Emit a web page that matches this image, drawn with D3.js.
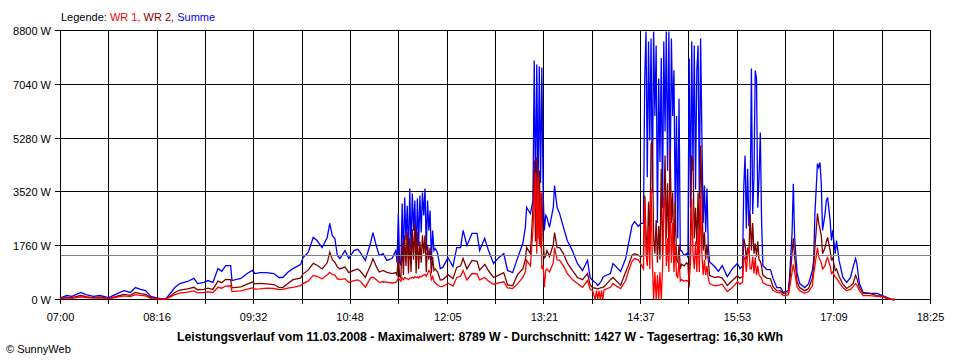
<!DOCTYPE html>
<html><head><meta charset="utf-8">
<script src="https://cdn.jsdelivr.net/npm/d3@7"></script>
<style>
body{margin:0;background:#fff}
svg{display:block}
text{font-family:"Liberation Sans",Arial,sans-serif;font-size:11px;fill:#000}
</style>
</head><body>
<svg id="c" width="960" height="360"></svg>
<script>
const xLabels = ["07:00","08:16","09:32","10:48","12:05","13:21","14:37","15:53","17:09","18:25"];
const yTicks = [0,1760,3520,5280,7040,8800];
const average = 1427;
const seriesNames = ["WR 1","WR 2","Summe"];
const seriesColors = ["#ff0000","#800000","#0000ff"];
const titleText = "Leistungsverlauf vom 11.03.2008 - Maximalwert: 8789 W - Durchschnitt: 1427 W - Tagesertrag: 16,30 kWh";

const times = [
"07:00","07:05","07:09","07:16","07:20","07:26","07:31","07:38","07:43","07:50","07:55","07:59","08:03","08:07","08:11","08:15","08:19","08:23","08:27","08:30","08:34","08:40","08:45","08:48","08:53","08:56","09:00","09:04","09:07","09:10","09:14","09:15","09:22","09:27","09:31","09:33","09:37",
"09:42","09:48","09:52","09:55","09:59","10:03","10:09","10:11","10:15","10:19","10:22","10:26","10:30","10:32","10:34","10:36","10:38","10:40","10:44","10:47","10:51","10:54","10:56","11:00","11:04","11:06","11:09","11:11","11:14","11:17","11:21","11:24",
"11:25","11:26","11:27","11:28","11:29","11:30","11:31","11:32","11:33","11:34","11:35","11:36","11:37","11:38","11:39","11:40","11:41","11:42","11:43","11:44","11:45","11:46","11:47","11:48","11:49","11:50","11:51","11:52","11:53","11:54","11:55","11:56","11:57",
"11:59","12:01","12:04","12:05","12:09","12:12","12:15","12:17","12:20","12:24","12:28","12:30","12:34","12:37","12:41","12:45","12:49","12:52","12:56","13:00","13:04","13:06","13:07","13:10","13:12",
"13:13","13:14","13:15","13:16","13:17","13:18","13:19","13:20","13:21","13:22",
"13:23","13:25","13:28","13:29","13:31","13:33","13:36","13:39","13:43","13:47","13:51","13:55","13:57","13:59","14:01","14:02","14:03","14:04","14:05","14:06","14:07","14:08","14:13","14:15","14:21","14:25","14:27","14:30","14:32","14:35","14:37","14:39",
"14:40","14:41","14:42","14:43","14:44","14:45","14:46","14:47","14:48","14:49","14:50","14:51","14:52","14:53","14:54","14:55","14:56","14:57","14:58","14:59","15:00","15:01","15:02","15:03","15:04","15:05","15:06","15:07","15:08",
"15:09","15:11","15:13","15:14",
"15:15","15:16","15:17","15:18","15:19","15:20","15:21","15:22","15:23","15:24","15:25","15:26","15:27","15:28","15:29","15:30",
"15:31","15:35","15:38","15:41","15:45","15:49","15:53","15:55",
"15:57","15:58","15:59","16:00","16:01","16:02","16:03","16:04","16:05","16:06","16:07","16:08","16:09","16:10","16:11","16:12","16:13",
"16:16","16:19","16:21","16:24","16:27","16:29","16:33","16:34","16:36","16:37","16:38","16:40","16:42","16:46","16:49","16:52","16:53","16:54","16:56","16:57","16:58","16:59","17:00","17:02","17:03","17:04","17:06","17:07","17:08","17:10","17:11","17:13","17:16","17:19","17:22","17:24","17:26","17:27","17:29","17:32","17:37","17:43","17:47","17:51","17:55","17:57"
];

const summe = [
55,130,100,230,160,100,130,65,160,290,230,390,330,290,100,65,30,30,230,390,520,590,690,520,560,620,560,1010,920,1110,1110,620,690,850,950,850,880,
880,850,720,720,890,1010,1140,1370,1540,2030,1930,1700,2030,2490,2090,2000,1440,1340,1600,1340,1600,1640,1540,1280,1830,2190,1700,1440,1500,1280,1340,1600,
1210,2810,1210,1110,3140,1210,3340,1930,3070,1340,3630,1600,3470,2260,3240,1440,3300,1770,3400,2190,3500,2750,3630,1600,3240,2260,2910,1280,2260,1600,1670,1600,1500,
1010,1050,1280,1370,1080,1700,1700,2260,1770,2160,2160,1600,2000,1600,1180,1370,1500,950,880,1370,1830,2360,3010,2810,3240,
7820,3300,7690,3500,7620,3800,7590,3470,2260,2750,
2680,2360,3010,3730,3010,2810,2360,1930,1600,1180,950,1280,720,620,560,520,460,500,560,620,720,760,850,1180,920,1340,1770,2420,2550,2390,2490,2490,
7230,8770,4000,8440,5200,8540,3500,8770,6000,8310,2500,7230,4500,7900,3000,8440,5500,8770,4200,8770,3800,8540,6000,7500,2800,6000,2000,6570,1600,
1600,1440,1500,1370,
7880,3000,8440,4200,8310,3600,7460,8310,3300,8540,5360,2500,3730,2200,3630,1770,
1240,1080,920,1110,750,1010,1180,1010,
1100,3730,4710,2320,4280,2400,3000,7560,2800,4000,7490,7230,3000,4000,5460,2580,1110,
980,980,690,390,390,230,290,720,2160,3790,2030,850,520,390,520,950,1280,2810,4450,4320,4480,3790,2260,2810,3240,3340,2580,1930,2260,1500,1930,1280,720,560,720,1050,1340,1180,520,230,200,200,130,65,0,0
];

const wr2 = [
30,70,60,130,90,60,75,40,90,170,135,230,195,170,60,40,20,20,130,230,310,350,400,320,330,370,330,600,550,660,650,380,410,500,570,510,530,
510,490,400,390,520,650,700,840,960,1180,1120,1000,1200,1550,1300,1220,1060,1000,1060,880,950,1000,930,730,1100,1330,1050,900,950,890,850,880,
800,1500,750,700,1900,800,2100,1100,2200,850,2000,900,2300,1300,2500,850,2200,1000,1900,1200,2100,1500,2100,900,1800,1300,1700,850,1400,950,1000,950,900,
640,650,760,820,680,1050,1100,1340,1000,1280,1250,960,1150,940,720,800,880,480,450,820,1000,1300,1700,1500,3000,
4550,1900,4650,2000,4220,1700,3500,1930,1340,1440,
1600,1400,1800,2190,1700,1700,1500,1200,950,720,650,850,480,390,370,360,350,360,380,390,400,420,650,720,470,900,1100,1450,1500,1450,1400,1450,
3400,2200,1400,3200,1800,5100,5170,2000,1500,2600,1200,2400,1300,4280,1400,3000,4710,2000,3800,1600,4940,2500,3500,1400,3200,1300,1200,1800,1000,
1150,1100,1200,1150,
400,2000,4710,4600,2000,3000,1800,3500,1500,5040,3500,1600,2200,1300,1800,1300,
790,720,750,700,460,620,780,700,
750,2000,1800,1300,1700,1500,2810,1600,2500,1500,1830,1400,1900,1300,1250,1100,800,
700,680,420,290,280,200,220,500,1500,2000,1400,560,390,290,360,700,1050,1700,2810,2500,2300,2100,1500,1700,1900,2030,1600,1300,1350,950,1000,760,500,360,450,520,790,700,390,200,200,130,110,40,0,0
];

const wr1 = [
25,55,40,90,65,45,55,30,65,120,95,160,135,120,40,30,15,15,95,160,210,240,280,220,230,250,230,400,370,440,450,260,280,340,380,340,350,
370,360,320,330,370,400,450,520,600,790,760,680,800,890,820,800,680,650,680,560,620,640,600,400,700,730,640,560,580,570,540,560,
620,700,650,600,700,650,720,700,680,650,700,700,720,700,750,720,740,700,760,740,780,800,820,760,850,950,900,650,750,600,550,500,480,
420,430,500,540,440,720,760,950,640,850,840,640,720,600,500,540,580,380,360,520,720,900,1280,1100,2300,
3240,4150,1500,4000,1800,3500,1000,1110,400,950,
1000,900,1200,1700,1300,1280,1100,850,650,520,400,620,330,290,0,290,0,280,0,300,0,310,400,520,360,620,900,1250,1340,1300,1150,1000,
3300,1500,1100,2400,1000,3630,1200,0,900,0,800,0,900,0,1000,3400,3000,1100,2000,900,3500,1200,2500,900,1800,800,700,1300,600,
650,600,620,600,
700,1200,3300,1500,1000,1900,900,2200,900,3400,1500,800,1300,800,1100,700,
520,450,460,500,260,390,580,500,
560,1300,1400,900,1500,1700,1000,1000,1400,850,1380,800,1100,800,750,700,550,
480,450,300,230,220,130,150,350,900,1150,900,400,290,200,260,450,850,1100,1700,1400,1300,1200,1000,1100,1300,1370,1100,850,900,720,700,560,390,290,330,420,520,480,290,130,130,100,90,30,0,0
];

const svg = d3.select("#c");
const toMin = s => { const [h, m] = s.split(":").map(Number); return h * 60 + m; };
const t0 = toMin(xLabels[0]), t1 = toMin(xLabels[xLabels.length - 1]);
const x = d3.scaleLinear().domain([t0, t1]).range([60.5, 930.5]);
const y = d3.scaleLinear().domain([0, yTicks[yTicks.length - 1]]).range([299.5, 30.5]);
const px = v => Math.round(v - 0.5) + 0.5;

// grid: horizontal
svg.append("g").selectAll("line").data(yTicks).join("line")
  .attr("x1", 55).attr("x2", px(x(t1)) + 0.5)
  .attr("y1", d => px(y(d))).attr("y2", d => px(y(d)))
  .attr("stroke", "#000").attr("stroke-width", 1).attr("shape-rendering", "crispEdges");

// grid: vertical (two per label interval)
const nInt = 2 * (xLabels.length - 1);
const gridT = d3.range(nInt + 1).map(i => t0 + i * (t1 - t0) / nInt);
svg.append("g").selectAll("line").data(gridT).join("line")
  .attr("x1", d => px(x(d))).attr("x2", d => px(x(d)))
  .attr("y1", px(y(yTicks[yTicks.length - 1]))).attr("y2", 304)
  .attr("stroke", "#000").attr("stroke-width", 1).attr("shape-rendering", "crispEdges");

// y labels
svg.append("g").selectAll("text").data(yTicks).join("text")
  .attr("x", 51).attr("y", d => px(y(d)) + 4)
  .attr("text-anchor", "end").text(d => d + " W");

// x labels
svg.append("g").selectAll("text").data(xLabels).join("text")
  .attr("x", d => x(toMin(d))).attr("y", 321)
  .attr("text-anchor", "middle").text(d => d);

// data lines
const series = [summe, wr2, wr1];
const colors = [seriesColors[2], seriesColors[1], seriesColors[0]];
const line = d3.line().x((d, i) => x(toMin(times[i]))).y(d => y(d));
series.forEach((s, k) => {
  svg.append("path").datum(s)
    .attr("d", line)
    .attr("fill", "none")
    .attr("stroke", colors[k])
    .attr("stroke-width", 1.3)
    .attr("stroke-linejoin", "miter");
});

// average line
svg.append("line")
  .attr("x1", px(x(t0))).attr("x2", px(x(t1)) + 0.5)
  .attr("y1", px(y(average))).attr("y2", px(y(average)))
  .attr("stroke", "#808080").attr("shape-rendering", "crispEdges");

// legend
const leg = svg.append("text").attr("x", 61).attr("y", 21);
leg.append("tspan").text("Legende: ");
seriesNames.forEach((n, i) => {
  leg.append("tspan").style("fill", seriesColors[i]).text(n + (i < seriesNames.length - 1 ? ", " : ""));
});

// title
svg.append("text").attr("x", 480).attr("y", 341).attr("text-anchor", "middle")
  .attr("textLength", 606).attr("lengthAdjust", "spacingAndGlyphs")
  .style("font-weight", "bold").style("font-size", "12px").text(titleText);

// copyright
svg.append("text").attr("x", 6).attr("y", 353).text("\u00A9 SunnyWeb");
</script>
</body></html>
